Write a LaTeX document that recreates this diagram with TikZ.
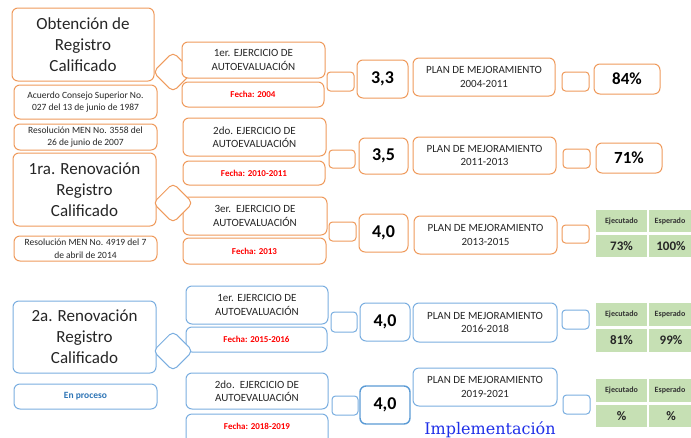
\documentclass[tikz,border=0pt]{standalone}
\usepackage{fontspec}
\setmainfont{Carlito}
\newfontfamily\implfont{DejaVu Serif}
\definecolor{orng}{HTML}{EF9A5C}
\definecolor{blu}{HTML}{7AAEE0}
\definecolor{bludark}{HTML}{5B9BD5}
\definecolor{grn}{HTML}{C6E0B4}
\definecolor{fred}{HTML}{FF0000}
\definecolor{ptxt}{HTML}{2E75B6}
\definecolor{impl}{HTML}{1F2FE8}
\newcommand\bx[7]{\node[#2, minimum width={(#5-#3)*1pt}, minimum height={(#6-#4)*1pt}] (#1) at ({(#3+#5)/2},{(#4+#6)/2}) {#7};}
\tikzset{
  base/.style={line width=1pt, rounded corners=6pt, fill=white, align=center, inner sep=1pt, text=black!85},
  ob/.style={base, draw=orng},
  bb/.style={base, draw=blu},
  sm/.style={rounded corners=3.5pt},
  title/.style={font=\fontsize{17}{21}\selectfont},
  ej/.style={font=\fontsize{11}{13.5}\selectfont},
  note/.style={font=\fontsize{9.5}{12.5}\selectfont},
  fecha/.style={font=\bfseries\fontsize{9}{11}\selectfont, text=fred},
  score/.style={font=\bfseries\fontsize{18}{20}\selectfont, text=black},
  pct/.style={font=\bfseries\fontsize{17}{20}\selectfont, text=black},
  cellh/.style={fill=grn, inner sep=0pt, font=\bfseries\fontsize{8}{9}\selectfont, text=black!80},
  cellv/.style={fill=grn, inner sep=0pt, font=\bfseries\fontsize{13}{15}\selectfont, text=black!85},
  dia/.style={line width=1pt, rounded corners=5pt, fill=white, rotate=45, minimum size=28pt, inner sep=0pt},
}
\begin{document}
\begin{tikzpicture}[x=1pt,y=-1pt]
\useasboundingbox (0,0) rectangle (691,437);
\clip (0,0) rectangle (691,437);
% diamond behind first group
\node[dia, draw=orng] (d1) at (173,72) {};
% orange group, left column
\bx{obt}{ob,title}{12}{8}{154}{81}{Obtención de\\Registro\\Calificado}
\bx{acu}{ob,note}{14}{85}{157}{119}{Acuerdo Consejo Superior No.\\027 del 13 de junio de 1987}
\bx{r3558}{ob,note}{14}{124}{157}{150}{Resolución MEN No. 3558 del\\26 de junio de 2007}
\bx{ren1}{ob,title}{13}{153}{156}{226}{1ra. Renovación\\Registro\\Calificado}
\bx{r4919}{ob,note}{14}{236}{157}{261}{Resolución MEN No. 4919 del 7\\de abril de 2014}
% orange group, exercises
\bx{ej1}{ob,ej}{182}{42}{325}{78}{1er. EJERCICIO DE\\AUTOEVALUACIÓN}
\bx{f1}{ob,fecha}{182}{82}{324}{107}{Fecha: 2004}
\bx{ej2}{ob,ej}{183}{118}{326}{156}{2do. EJERCICIO DE\\AUTOEVALUACIÓN}
\bx{f2}{ob,fecha}{183}{161}{325}{185}{Fecha: 2010-2011}
\bx{ej3}{ob,ej}{183}{197}{327}{235}{3er.\ \ EJERCICIO DE\\AUTOEVALUACIÓN}
\bx{f3}{ob,fecha}{183}{238}{326}{264}{Fecha: 2013}
\bx{s1}{ob,sm}{327}{72}{354}{91}{}
\bx{s2}{ob,sm}{329}{150}{355}{168}{}
\bx{s3}{ob,sm}{329}{222}{356}{241}{}
\bx{sc1}{ob,score}{357}{60}{408}{98}{3,3}
\bx{sc2}{ob,score}{359}{138}{408}{174}{3,5}
\bx{sc3}{ob,score}{359}{214}{408}{252}{4,0}
\bx{p1}{ob,ej}{413}{58}{555}{96}{PLAN DE MEJORAMIENTO\\2004-2011}
\bx{p2}{ob,ej}{413}{137}{556}{174}{PLAN DE MEJORAMIENTO\\2011-2013}
\bx{p3}{ob,ej}{414}{216}{557}{254}{PLAN DE MEJORAMIENTO\\2013-2015}
\bx{t1}{ob,sm}{562}{72}{589}{91}{}
\bx{t2}{ob,sm}{563}{149}{590}{168}{}
\bx{t3}{ob,sm}{562}{225}{589}{243}{}
\bx{pc1}{ob,pct}{594}{64}{660}{94}{84\%}
\bx{pc2}{ob,pct}{596}{143}{662}{173}{71\%}
% table 1
\bx{h1a}{cellh}{596}{210}{647}{232}{Ejecutado}
\bx{h1b}{cellh}{649}{210}{693}{232}{\hspace*{-2pt}Esperado}
\bx{v1a}{cellv}{596}{235}{647}{257}{73\%}
\bx{v1b}{cellv}{649}{235}{693}{257}{100\%}
\node[dia, draw=orng] (d2) at (173,203) {};
% blue group
\bx{ren2}{bb,title}{13}{301}{156}{373}{2a. Renovación\\Registro\\Calificado}
\bx{proc}{bb,font=\bfseries\fontsize{9.5}{11}\selectfont, text=ptxt}{14}{384}{157}{409}{En proceso}
\bx{bej1}{bb,ej}{186}{286}{328}{324}{1er. EJERCICIO DE\\AUTOEVALUACIÓN}
\bx{bf1}{bb,fecha}{186}{327}{327}{352}{Fecha: 2015-2016}
\bx{bej2}{bb,ej}{186}{373}{328}{409}{2do.\ \ EJERCICIO DE\\AUTOEVALUACIÓN}
\bx{bf2}{bb,fecha,text depth=22pt}{186}{414}{328}{460}{Fecha: 2018-2019}
\bx{bs1}{bb,sm}{331}{312}{357}{332}{}
\bx{bsc1}{bb,score}{360}{303}{410}{341}{4,0}
\bx{bs2}{bb,sm}{332}{396}{358}{415}{}
\bx{bsc2}{bb,score,draw=bludark,line width=1.4pt}{360}{386}{410}{424}{4,0}
\bx{bp1}{bb,ej}{413}{303}{557}{342}{PLAN DE MEJORAMIENTO\\2016-2018}
\bx{bp2}{bb,ej}{413}{368}{557}{406}{PLAN DE MEJORAMIENTO\\2019-2021}
\bx{bt1}{bb,sm}{562}{310}{589}{329}{}
\bx{bt2}{bb,sm}{563}{395}{590}{414}{}
% table 2
\bx{h2a}{cellh}{596}{303}{647}{326}{Ejecutado}
\bx{h2b}{cellh}{649}{303}{693}{326}{\hspace*{-2pt}Esperado}
\bx{v2a}{cellv}{596}{329}{647}{352}{81\%}
\bx{v2b}{cellv}{649}{329}{693}{352}{99\%}
% table 3
\bx{h3a}{cellh}{596}{379}{647}{402}{Ejecutado}
\bx{h3b}{cellh}{649}{379}{693}{402}{\hspace*{-2pt}Esperado}
\bx{v3a}{cellv}{596}{405}{647}{427}{\%}
\bx{v3b}{cellv}{649}{405}{693}{427}{\%}
\node[dia, draw=blu] (d3) at (173,351) {};
\node[font=\implfont\fontsize{16}{18}\selectfont, text=impl, anchor=base] (impl) at (490,434) {Implementación};
\end{tikzpicture}
\end{document}
